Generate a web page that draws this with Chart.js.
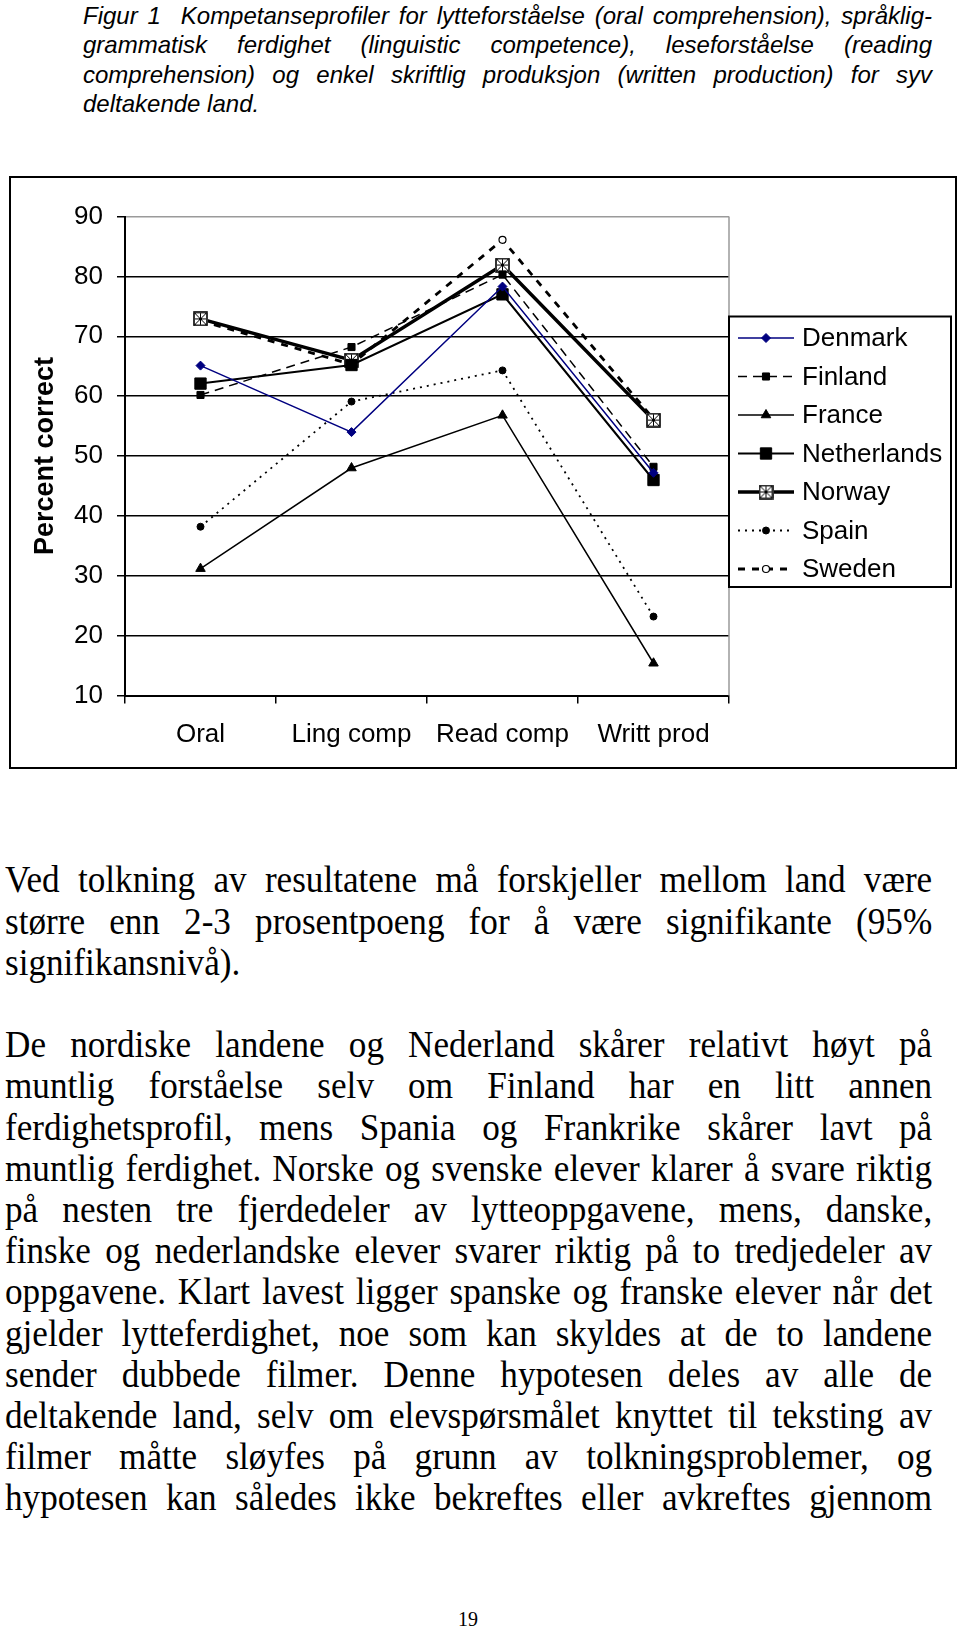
<!DOCTYPE html>
<html lang="no">
<head>
<meta charset="utf-8">
<title>Figur 1 – Kompetanseprofiler</title>
<script src="https://cdn.jsdelivr.net/npm/chart.js@4/dist/chart.umd.min.js"></script>
<style>
  html, body { margin: 0; padding: 0; background: #fff; }
  body { position: relative; width: 960px; height: 1633px; overflow: hidden; color: #000; }
  .caption { position: absolute; left: 83px; top: 1px; width: 849px;
             font: italic 24px/29.4px "Liberation Sans", Arial, sans-serif; }
  .caption div { text-align: justify; text-align-last: justify; }
  .caption div.last { text-align-last: left; }
  .chartbox { position: absolute; left: 9px; top: 176px; width: 948px; height: 593px;
              border: 2px solid #000; box-sizing: border-box; }
  .chartbox canvas { display: block; }
  .text { position: absolute; left: 5px; top: 859.4px; width: 976px;
          transform: scaleX(0.95); transform-origin: 0 0;
          font: 37px/41.2px "Liberation Serif", "Times New Roman", serif; }
  .text div { text-align: justify; text-align-last: justify; }
  .text div.last { text-align-last: left; }
  .pageno { position: absolute; left: 418px; top: 1607px; width: 100px; text-align: center;
            font: 20px/24px "Liberation Serif", "Times New Roman", serif; }
</style>
</head>
<body>

<div class="caption">
  <div>Figur 1&nbsp; Kompetanseprofiler for lytteforståelse (oral comprehension), språklig-</div>
  <div>grammatisk ferdighet (linguistic competence), leseforståelse (reading</div>
  <div>comprehension) og enkel skriftlig produksjon (written production) for syv</div>
  <div class="last">deltakende land.</div>
</div>

<div class="chartbox">
  <canvas id="profileChart" width="944" height="589"></canvas>
</div>

<div class="text">
  <div>Ved tolkning av resultatene må forskjeller mellom land være</div>
  <div>større enn 2-3 prosentpoeng for å være signifikante (95%</div>
  <div class="last">signifikansnivå).</div>
  <div class="last">&nbsp;</div>
  <div>De nordiske landene og Nederland skårer relativt høyt på</div>
  <div>muntlig forståelse selv om Finland har en litt annen</div>
  <div>ferdighetsprofil, mens Spania og Frankrike skårer lavt på</div>
  <div>muntlig ferdighet. Norske og svenske elever klarer å svare riktig</div>
  <div>på nesten tre fjerdedeler av lytteoppgavene, mens, danske,</div>
  <div>finske og nederlandske elever svarer riktig på to tredjedeler av</div>
  <div>oppgavene. Klart lavest ligger spanske og franske elever når det</div>
  <div>gjelder lytteferdighet, noe som kan skyldes at de to landene</div>
  <div>sender dubbede filmer. Denne hypotesen deles av alle de</div>
  <div>deltakende land, selv om elevspørsmålet knyttet til teksting av</div>
  <div>filmer måtte sløyfes på grunn av tolkningsproblemer, og</div>
  <div>hypotesen kan således ikke bekreftes eller avkreftes gjennom</div>
</div>

<div class="pageno">19</div>

<script>
// data (percent correct)
const categories = ['Oral', 'Ling comp', 'Read comp', 'Writt prod'];
const countries = ['Denmark', 'Finland', 'France', 'Netherlands', 'Norway', 'Spain', 'Sweden'];
const denmark = [65.1, 54.0, 78.3, 47.2];
const finland = [60.2, 68.2, 80.3, 48.2];
const france = [31.2, 48.0, 56.8, 15.4];
const netherlands = [62.1, 65.2, 77.0, 46.0];
const norway = [72.9, 66.0, 81.9, 56.0];
const spain = [38.2, 59.1, 64.3, 23.2];
const sweden = [72.6, 65.3, 86.1, 56.2];
const yMin = 10, yMax = 90, yStep = 10;
const yTitle = 'Percent correct';

const FONT = '"Liberation Sans", Arial, sans-serif';
Chart.defaults.font.family = FONT;
Chart.defaults.color = '#000';

// boxed cross marker used for Norway
function boxMarker() {
    const c = document.createElement('canvas');
    c.width = 15; c.height = 15;
    const g = c.getContext('2d');
    g.fillStyle = '#fff';
    g.fillRect(0, 0, 15, 15);
    g.strokeStyle = '#000';
    g.lineWidth = 1.6;
    g.strokeRect(1, 1, 13, 13);
    g.lineWidth = 1;
    g.beginPath();
    g.moveTo(2, 2); g.lineTo(13, 13);
    g.moveTo(13, 2); g.lineTo(2, 13);
    g.moveTo(7.5, 2); g.lineTo(7.5, 13);
    g.moveTo(2, 7.5); g.lineTo(13, 7.5);
    g.stroke();
    return c;
}

function series(label, data, style) {
    return Object.assign({
        label: label,
        data: data,
        borderColor: '#000',
        borderWidth: 1.5,
        borderDash: [],
        pointBackgroundColor: '#000',
        pointBorderColor: '#000',
        pointBorderWidth: 1,
        pointRadius: 4,
        pointHoverRadius: 4,
        tension: 0,
        fill: false
    }, style);
}

const datasets = [
    series(countries[0], denmark, { borderColor: '#000080', pointBackgroundColor: '#000080', pointBorderColor: '#000080', pointStyle: 'rectRot', pointRadius: 4.5 }),
    series(countries[1], finland, { borderDash: [9, 6], pointStyle: 'rect', pointRadius: 5 }),
    series(countries[2], france, { pointStyle: 'triangle', pointRadius: 5.5 }),
    series(countries[3], netherlands, { borderWidth: 2, pointStyle: 'rect', pointRadius: 8 }),
    series(countries[4], norway, { borderWidth: 3.5, pointStyle: boxMarker(), pointRadius: 7.5 }),
    series(countries[5], spain, { borderWidth: 1.8, borderDash: [2, 5], pointStyle: 'circle', pointRadius: 3.5 }),
    series(countries[6], sweden, { borderWidth: 2.8, borderDash: [7, 7], pointStyle: 'circle', pointRadius: 3.5, pointBackgroundColor: '#fff', pointBorderWidth: 1.2 })
];

// gray frame on the right side of the plot area
const plotFrame = {
    id: 'plotFrame',
    beforeDatasetsDraw(chart) {
        const { ctx, chartArea } = chart;
        ctx.save();
        ctx.strokeStyle = '#9a9a9a';
        ctx.lineWidth = 1.5;
        ctx.beginPath();
        ctx.moveTo(chartArea.right, chartArea.top);
        ctx.lineTo(chartArea.right, chartArea.bottom);
        ctx.stroke();
        ctx.restore();
    }
};

// Excel style legend: line sample with marker, boxed, to the right of the plot
const excelLegend = {
    id: 'excelLegend',
    afterDraw(chart) {
        const { ctx, chartArea } = chart;
        const left = chartArea.right, top = chartArea.top + 100, w = 222, h = 270.5;
        ctx.save();
        ctx.fillStyle = '#fff';
        ctx.fillRect(left, top, w, h);
        ctx.strokeStyle = '#000';
        ctx.lineWidth = 2;
        ctx.strokeRect(left, top, w, h);
        chart.data.datasets.forEach((ds, i) => {
            const y = top + 21.5 + i * 38.5;
            ctx.strokeStyle = ds.borderColor;
            ctx.lineWidth = ds.borderWidth;
            ctx.setLineDash(ds.borderDash || []);
            ctx.beginPath();
            ctx.moveTo(left + 9, y);
            ctx.lineTo(left + 65, y);
            ctx.stroke();
            ctx.setLineDash([]);
            ctx.fillStyle = ds.pointBackgroundColor;
            ctx.strokeStyle = ds.pointBorderColor;
            ctx.lineWidth = ds.pointBorderWidth;
            Chart.helpers.drawPoint(ctx, {
                pointStyle: ds.pointStyle, radius: ds.pointRadius, rotation: 0, borderWidth: ds.pointBorderWidth
            }, left + 37, y);
            ctx.fillStyle = '#000';
            ctx.font = '26px ' + FONT;
            ctx.textAlign = 'left';
            ctx.textBaseline = 'middle';
            ctx.fillText(ds.label, left + 73, y + 1);
        });
        ctx.restore();
    }
};

new Chart(document.getElementById('profileChart').getContext('2d'), {
    type: 'line',
    data: { labels: categories, datasets: datasets },
    plugins: [plotFrame, excelLegend],
    options: {
        responsive: false,
        animation: false,
        devicePixelRatio: 1,
        layout: { padding: { top: 38.5, right: 226, bottom: 0, left: 0 } },
        plugins: {
            legend: { display: false },
            tooltip: { enabled: false }
        },
        scales: {
            x: {
                offset: true,
                afterFit: s => { s.height = 71.4; },
                grid: { offset: true, drawOnChartArea: false, drawTicks: true, tickLength: 8, color: '#000', lineWidth: 1.5 },
                border: { display: true, color: '#000', width: 2 },
                ticks: { font: { size: 26 }, padding: 16, maxRotation: 0 }
            },
            y: {
                min: yMin,
                max: yMax,
                afterFit: s => { s.width = 114; },
                grid: {
                    color: c => (c.tick && c.tick.value === yMax) ? '#9a9a9a' : '#000',
                    tickColor: '#000',
                    lineWidth: 1.5,
                    tickLength: 8,
                    drawTicks: true
                },
                border: { display: true, color: '#000', width: 2 },
                ticks: { stepSize: yStep, font: { size: 26 }, padding: 14 },
                title: {
                    display: true,
                    text: yTitle,
                    font: { size: 27, weight: 'bold' },
                    padding: { top: 18, bottom: 0 }
                }
            }
        }
    }
});
</script>
</body>
</html>
